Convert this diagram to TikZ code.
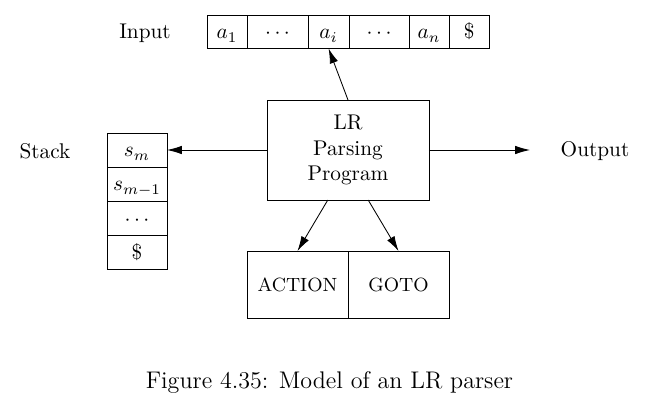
\documentclass[tikz,border=0pt]{standalone}
\usetikzlibrary{positioning,arrows.meta}

\begin{document}
\begin{tikzpicture}[x=0.47pt,y=-0.47pt,
		cell/.style={rectangle,draw,inner sep=1pt,outer sep=0pt,minimum height=15.5pt,text height=7.5pt,text depth=1pt},
		box/.style={rectangle,draw,outer sep=0pt},
		>={Latex[length=7pt,width=4pt]}]
		\useasboundingbox (0,0) rectangle (650,412);

		\node (input) at (145,33) {Input};
		\node[cell,minimum width=18.8pt] (a1) at (227,32) {$a_1$};
		\node[cell,minimum width=28.7pt,right=0pt of a1] (dotsa) {$\cdots$};
		\node[cell,minimum width=19.3pt,right=0pt of dotsa] (ai) {$a_i$};
		\node[cell,minimum width=28.2pt,right=0pt of ai] (dotsb) {$\cdots$};
		\node[cell,minimum width=18.8pt,right=0pt of dotsb] (an) {$a_n$};
		\node[cell,minimum width=18.8pt,right=0pt of an] (dollar) {\$};

		\node (stack) at (45,151) {Stack};
		\node[cell,minimum width=28.2pt,minimum height=16pt] (sm) at (137,150) {$s_m$};
		\node[cell,minimum width=28.2pt,minimum height=16pt,below=0pt of sm] (smm) {$s_{m-1}$};
		\node[cell,minimum width=28.2pt,minimum height=16pt,below=0pt of smm] (sdots) {$\cdots$};
		\node[cell,minimum width=28.2pt,minimum height=16pt,below=0pt of sdots] (sdollar) {\$};

		\node[box,minimum width=76.1pt,minimum height=47pt,align=center] (lr) at (348,150) {LR\\Parsing\\Program};

		\node (output) at (595,151) {Output};
		\coordinate (outend) at (530,150);

		\node[box,minimum width=47.5pt,minimum height=31.5pt,font=\small] (action) at (297.5,284.5) {ACTION};
		\node[box,minimum width=47.5pt,minimum height=31.5pt,font=\small] (goto) at (398.5,284.5) {GOTO};

		\draw[->] (lr.north) -- (ai.south);
		\draw[->] (lr.west) -- (sm.east);
		\draw[->] (lr.east) -- (outend);
		\draw[->] (lr.248) -- (action.north);
		\draw[->] (lr.292) -- (goto.north);

		\node[font=\fontsize{11.3pt}{13pt}\selectfont] (caption) at (329.5,382) {Figure 4.35: Model of an LR parser};
	\end{tikzpicture}
\end{document}
